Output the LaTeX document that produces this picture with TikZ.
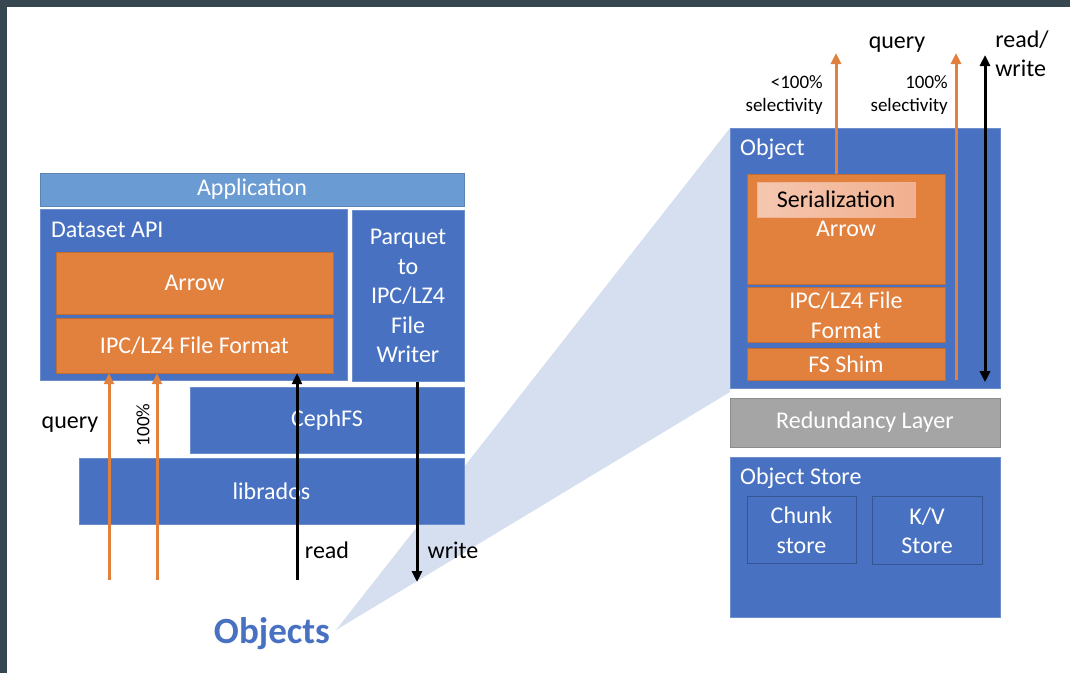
\documentclass[tikz,border=0pt]{standalone}
\usepackage{fontspec}
\setmainfont{Carlito}
\usetikzlibrary{arrows.meta,calc}

\definecolor{layblue}{HTML}{4872C1}
\definecolor{appblue}{HTML}{6A9BD2}
\definecolor{layorange}{HTML}{E2803E}
\definecolor{peach}{HTML}{F2B496}
\definecolor{laygray}{HTML}{A5A5A5}
\definecolor{cone}{HTML}{D6DFEF}
\definecolor{framegray}{HTML}{37474F}

\tikzset{
  layer/.style={draw=layblue!80!white, fill=layblue, text=white, inner sep=0pt,
    font=\fontsize{24}{29.5}\selectfont, align=center},
  applayer/.style={layer, fill=appblue, draw=appblue!85!black},
  orangelayer/.style={layer, fill=layorange, draw=layorange!85!black},
  graylayer/.style={layer, fill=laygray, draw=laygray!85!black},
  boxsize/.style 2 args={minimum width=#1, minimum height=#2},
  tag/.style={font=\fontsize{24}{29}\selectfont, inner sep=0pt, align=left},
  smalltag/.style={font=\fontsize{19}{23}\selectfont, inner sep=0pt, align=right},
  qarrow/.style={draw=layorange, line width=3pt},
  rwarrow/.style={draw=black, line width=3pt},
}

\begin{document}
\begin{tikzpicture}[x=1pt, y=-1pt, >={Triangle[length=11pt,width=10pt]}]
\useasboundingbox (0,0) rectangle (1070,673);
\fill[framegray] (0,0) rectangle (1070,7);
\fill[framegray] (0,0) rectangle (7,673);
% callout
\coordinate (tip) at (336,630);
\fill[cone] (tip) -- (730,128) -- (730,392) -- cycle;

% client side stack
\node[applayer, boxsize={424pt}{33pt}] (app) at (252,189.5) {Application};
\node[layer, boxsize={307pt}{171pt}] (dataset) at (193.5,294.5) {};
\node[tag, text=white, anchor=west] (dslabel) at (51,230) {Dataset API};
\node[orangelayer, boxsize={277pt}{62pt}] (arrowL) at (194.5,283) {Arrow};
\node[orangelayer, boxsize={277pt}{55pt}] (ipcL) at (194.5,345.5) {IPC/LZ4 File Format};
\node[layer, boxsize={112pt}{171pt}] (parquet) at (408,296) {Parquet\\to\\IPC/LZ4\\File\\Writer};
\node[layer, boxsize={274pt}{66pt}] (ceph) at (327,420) {CephFS};
\node[layer, boxsize={385pt}{66pt}] (rados) at (271.5,491) {librados};

\coordinate (q1) at (109,580);
\coordinate (q2) at (157,580);
\coordinate (rd) at (297,580);
\coordinate (wr) at (417,582);
\draw[qarrow, ->] (q1) -- (q1 |- ipcL.south);
\draw[qarrow, ->] (q2) -- (q2 |- ipcL.south);
\draw[rwarrow, ->] (rd) -- (rd |- ipcL.south);
\draw[rwarrow, ->] (wr |- parquet.south) -- (wr);

\node[tag] (qlabel) at (70,425) {query};
\node[smalltag, rotate=90] (pct) at (143,425) {100\%};
\node[tag] (rdlabel) at (327,550) {read};
\node[tag] (wrlabel) at (453,550) {write};
\node[font=\fontsize{37}{40}\selectfont\bfseries, text=layblue, inner sep=0pt] (objects) at (272,634) {Objects};

% object side stack
\node[layer, boxsize={270pt}{260pt}] (obj) at (865,258) {};
\node[tag, text=white, anchor=west] (objlabel) at (740,149) {Object};
\node[orangelayer, boxsize={198pt}{110pt}] (arrowR) at (846,229) {Arrow};
\node[layer, left color=peach!75!white, right color=peach!92!layorange, draw=peach, text=black,
  boxsize={158pt}{35pt}] (serial) at (836,199.5) {Serialization};
\node[orangelayer, boxsize={198pt}{55pt}] (ipcR) at (846,315) {IPC/LZ4 File\\Format};
\node[orangelayer, boxsize={198pt}{32pt}] (shim) at (846,364) {FS Shim};
\node[graylayer, boxsize={270pt}{49pt}] (redund) at (865,422.5) {Redundancy Layer};
\node[layer, boxsize={270pt}{160pt}] (store) at (865,537) {};
\node[tag, text=white, anchor=west] (storelabel) at (740,478) {Object Store};
\node[layer, draw=layblue!75!black, boxsize={109pt}{67pt}] (chunk) at (801.5,530) {Chunk\\store};
\node[layer, draw=layblue!75!black, boxsize={110pt}{68pt}] (kv) at (927,530.5) {K/V\\Store};

\coordinate (selq) at (836,53);
\coordinate (fullq) at (956,53);
\coordinate (rwtop) at (985,55);
\draw[qarrow, ->] (arrowR.north -| selq) -- (selq);
\draw[qarrow, ->] (shim.south -| fullq) -- (fullq);
\draw[rwarrow, <->] (rwtop) -- ($(rwtop |- shim.south)+(0,2)$);

\node[tag] (qtop) at (897,45) {query};
\node[tag] (rwlabel) at (1022,54) {read/\\write};
\node[smalltag, anchor=east] (sel1) at (823,95) {<100\%\\selectivity};
\node[smalltag, anchor=east] (sel2) at (948,95) {100\%\\selectivity};
\end{tikzpicture}
\end{document}
